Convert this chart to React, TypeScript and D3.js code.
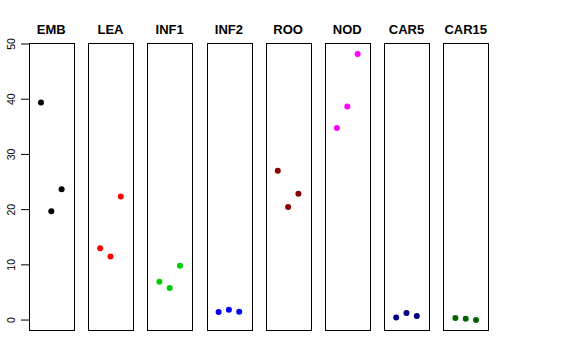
import React from "react";
import * as d3 from "d3";

const categories = ["EMB", "LEA", "INF1", "INF2", "ROO", "NOD", "CAR5", "CAR15"];
const colors = ["#000000", "#FF0000", "#00CD00", "#0000FF", "#8B0000", "#FF00FF", "#000080", "#006400"];
const embValues = [39.4, 19.7, 23.7];
const leaValues = [13.0, 11.5, 22.4];
const inf1Values = [6.95, 5.8, 9.85];
const inf2Values = [1.45, 1.87, 1.5];
const rooValues = [27.05, 20.5, 22.9];
const nodValues = [34.8, 38.7, 48.2];
const car5Values = [0.48, 1.27, 0.72];
const car15Values = [0.36, 0.24, 0.0];
const seriesValues = [embValues, leaValues, inf1Values, inf2Values, rooValues, nodValues, car5Values, car15Values];
const yTicks = [0, 10, 20, 30, 40, 50];

export default function App() {
  const W = 576, H = 360;
  const top = 43.3, bottom = 330.7;
  const all = seriesValues.flat();
  const mn = d3.min(all)!, mx = d3.max(all)!;
  const ext = (mx - mn) * 0.04;
  const y = d3.scaleLinear().domain([mn - ext, mx + ext]).range([bottom, top]);
  const band = d3.scaleBand<string>().domain(categories).range([29, 488]).paddingInner(0.247).paddingOuter(0);
  const bw = band.bandwidth();
  const font = "'Liberation Sans', Arial, Helvetica, sans-serif";

  return (
    <svg width={W} height={H} style={{ position: "absolute", left: 0, top: 0, background: "#fff" }}>
      {categories.map((c, i) => {
        const x0 = band(c)!;
        const x = d3.scaleLinear().domain([-0.16, 4.16]).range([x0, x0 + bw]);
        const rx = Math.round(x0) + 0.5;
        const rw = Math.round(bw);
        return (
          <g key={c}>
            <text x={x0 + bw / 2} y={34} textAnchor="middle" fontFamily={font} fontWeight="bold" fontSize={13}>{c}</text>
            <rect x={rx} y={Math.round(top) + 0.5} width={rw} height={Math.round(bottom - top)} fill="none" stroke="#000" strokeWidth={1} />
            {seriesValues[i].map((v, j) => (
              <circle key={j} cx={x(j + 1)} cy={y(v)} r={3} fill={colors[i]} />
            ))}
          </g>
        );
      })}
      {yTicks.map(t => (
        <g key={t}>
          <line x1={21} x2={29} y1={y(t)} y2={y(t)} stroke="#000" strokeWidth={1} />
          <text transform={`translate(14.5,${y(t)}) rotate(-90)`} textAnchor="middle" fontFamily={font} fontSize={10.5}>{t}</text>
        </g>
      ))}
    </svg>
  );
}
